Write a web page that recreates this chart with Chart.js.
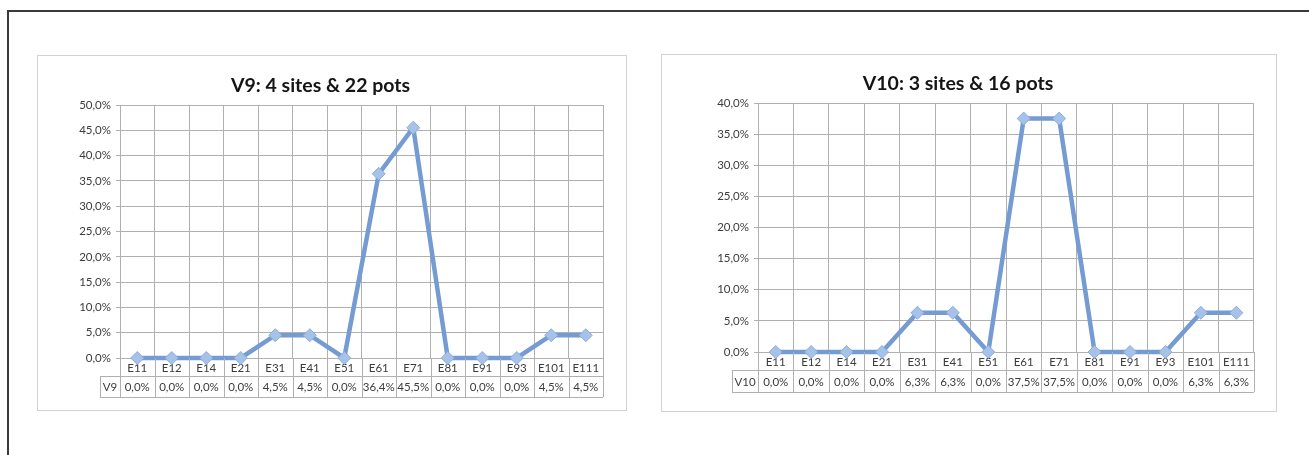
<!DOCTYPE html>
<html lang="en">
<head>
    <meta charset="UTF-8">
    <title>V9 / V10 sites & pots</title>
    <script src="https://cdn.jsdelivr.net/npm/chart.js"></script>
    <style>
        body { margin: 0; background: #fff; width: 1309px; height: 455px; position: relative; overflow: hidden; }
        #frame { position: absolute; left: 7px; top: 10px; right: -5px; bottom: -5px; border-top: 2px solid #3a3a3a; border-left: 2px solid #3a3a3a; }
        .panel { position: absolute; border: 1px solid #d2d2d2; background: #fff; }
        #panelV9 { left: 37px; top: 55px; width: 588px; height: 354px; }
        #panelV10 { left: 661px; top: 54px; width: 614px; height: 356px; }
        canvas { display: block; }
    </style>
</head>
<body>
    <div id="frame"></div>
    <div class="panel" id="panelV9"><canvas id="chartV9" width="588" height="354"></canvas></div>
    <div class="panel" id="panelV10"><canvas id="chartV10" width="614" height="356"></canvas></div>

    <script>
        // data
        const categories = ['E11', 'E12', 'E14', 'E21', 'E31', 'E41', 'E51', 'E61', 'E71', 'E81', 'E91', 'E93', 'E101', 'E111'];
        const v9Values = [0, 0, 0, 0, 4.5, 4.5, 0, 36.4, 45.5, 0, 0, 0, 4.5, 4.5];
        const v10Values = [0, 0, 0, 0, 6.3, 6.3, 0, 37.5, 37.5, 0, 0, 0, 6.3, 6.3];
        const v9Max = 50;
        const v10Max = 40;
        const tickStep = 5;

        const gridColor = '#b0b0b0';
        const textColor = '#3c3c3c';
        const smallFont = 11.5;
        Chart.defaults.font.family = 'Lato, "Liberation Sans", sans-serif';

        function pct(v) {
            return v.toFixed(1).replace('.', ',') + '%';
        }

        // draws the data table under the category axis
        const dataTablePlugin = {
            id: 'dataTable',
            afterDraw(chart, args, opts) {
                const ctx = chart.ctx;
                const x = chart.scales.x;
                const area = chart.chartArea;
                const n = chart.data.labels.length;
                const colW = (area.right - area.left) / n;
                const rowTop = area.bottom + opts.labelRow;
                const rowBottom = rowTop + opts.valueRow;
                const cellLeft = area.left - opts.nameWidth;

                ctx.save();
                ctx.strokeStyle = gridColor;
                ctx.lineWidth = 1;
                ctx.beginPath();
                for (let i = 0; i <= n; i++) {
                    const px = Math.round(area.left + i * colW) + 0.5;
                    ctx.moveTo(px, area.bottom);
                    ctx.lineTo(px, rowBottom);
                }
                ctx.moveTo(cellLeft + 0.5, rowTop);
                ctx.lineTo(cellLeft + 0.5, rowBottom);
                ctx.moveTo(cellLeft, rowTop + 0.5);
                ctx.lineTo(area.right, rowTop + 0.5);
                ctx.moveTo(cellLeft, rowBottom + 0.5);
                ctx.lineTo(area.right, rowBottom + 0.5);
                ctx.stroke();

                ctx.fillStyle = textColor;
                ctx.font = smallFont + 'px ' + Chart.defaults.font.family;
                ctx.textAlign = 'center';
                ctx.textBaseline = 'middle';
                const midY = (rowTop + rowBottom) / 2 + 1;
                ctx.fillText(chart.data.datasets[0].label, (cellLeft + area.left) / 2, midY);
                chart.data.datasets[0].data.forEach((v, i) => {
                    ctx.fillText(pct(v), x.getPixelForValue(i), midY);
                });
                ctx.restore();
            }
        };

        function makeChart(id, title, name, values, yMax, lay) {
            const ctx = document.getElementById(id).getContext('2d');
            return new Chart(ctx, {
                type: 'line',
                data: {
                    labels: categories,
                    datasets: [{
                        label: name,
                        data: values,
                        borderColor: '#749bd2',
                        borderWidth: 4.5,
                        pointStyle: 'rectRot',
                        pointRadius: 6.5,
                        pointBackgroundColor: '#a6c2e8',
                        pointBorderColor: '#8cadde',
                        pointBorderWidth: 1,
                        tension: 0,
                        clip: false
                    }]
                },
                options: {
                    responsive: false,
                    animation: false,
                    layout: { padding: { left: 0, right: lay.right, top: 0, bottom: 0 } },
                    plugins: {
                        legend: { display: false },
                        tooltip: { enabled: false },
                        title: {
                            display: true,
                            text: title,
                            color: '#151515',
                            font: { size: 19.5, weight: 'bold', lineHeight: 1.2 },
                            padding: { top: lay.titleTop, bottom: lay.titleBottom }
                        },
                        dataTable: { labelRow: lay.labelRow, valueRow: lay.valueRow, nameWidth: lay.nameWidth }
                    },
                    scales: {
                        x: {
                            offset: true,
                            grid: { offset: true, color: gridColor, tickLength: 0 },
                            border: { color: gridColor },
                            ticks: { color: textColor, font: { size: smallFont }, padding: 3, maxRotation: 0, autoSkip: false },
                            afterFit(scale) { scale.height = lay.xHeight; }
                        },
                        y: {
                            min: 0,
                            max: yMax,
                            grid: { color: gridColor, tickLength: 4 },
                            border: { color: gridColor },
                            ticks: { stepSize: tickStep, color: textColor, font: { size: smallFont }, padding: 5, callback: v => pct(v) },
                            afterFit(scale) { scale.width = lay.yWidth; }
                        }
                    }
                },
                plugins: [dataTablePlugin]
            });
        }

        makeChart('chartV9', 'V9: 4 sites & 22 pots', 'V9', v9Values, v9Max, {
            yWidth: 82, xHeight: 52, right: 23, titleTop: 18.3, titleBottom: 7.3,
            labelRow: 18, valueRow: 21, nameWidth: 20
        });

        makeChart('chartV10', 'V10: 3 sites & 16 pots', 'V10', v10Values, v10Max, {
            yWidth: 96, xHeight: 59, right: 22, titleTop: 17.3, titleBottom: 7.3,
            labelRow: 18, valueRow: 22, nameWidth: 26
        });
    </script>
</body>
</html>
